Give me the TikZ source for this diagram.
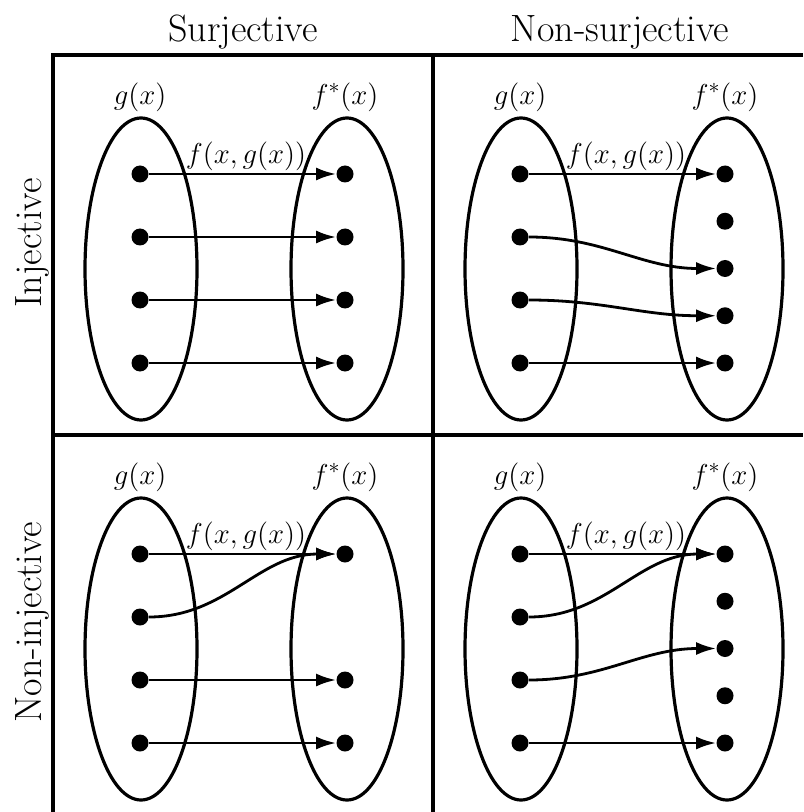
\documentclass[tikz,border=0pt]{standalone}
\usetikzlibrary{arrows.meta,shapes.geometric}
\tikzset{
  dotnode/.style={circle, fill=black, inner sep=0pt, minimum size=8.5pt},
  setshape/.style={ellipse, draw, line width=1.6pt, inner sep=0pt, minimum width=56pt, minimum height=151pt},
  lbl/.style={inner sep=0pt, font=\fontsize{15.2pt}{18pt}\selectfont},
  hd/.style={inner sep=0pt, font=\fontsize{19pt}{23pt}\selectfont},
  arr/.style={line width=1.4pt, -{Latex[length=10pt,width=6.5pt]}},
  gridline/.style={line width=2pt}
}
\newcommand\mkcell[4]{%
  \begin{scope}[shift={(#2,#3)}]
    \node[setshape] (#1-A) at (88,214) {};
    \node[setshape] (#1-B) at (294,214) {};
    \node[lbl] (#1-ga) at (87,42) {$g(x)$};
    \node[lbl] (#1-fa) at (292,42) {$f^*(x)$};
    \node[lbl] (#1-fl) at (193,101) {$f(x,g(x))$};
    \foreach \i/\yy in {1/119,2/182,3/245,4/308}
      \node[dotnode] (#1-l\i) at (87,\yy) {};
    \ifcase#4
    \or\or\or
      \foreach \i/\yy in {1/119,3/245,4/308}
        \node[dotnode] (#1-r\i) at (292,\yy) {};
    \or
      \foreach \i/\yy in {1/119,2/182,3/245,4/308}
        \node[dotnode] (#1-r\i) at (292,\yy) {};
    \or
      \foreach \i/\yy in {1/119,2/166.25,3/213.5,4/260.75,5/308}
        \node[dotnode] (#1-r\i) at (292,\yy) {};
    \fi
  \end{scope}}
\begin{document}
\begin{tikzpicture}[x=0.5pt, y=-0.5pt]
  \useasboundingbox (0,0) rectangle (803,812);
  \clip (0,0) rectangle (803,812);
  % grid
  \coordinate (g1) at (53,55);
  \coordinate (g2) at (803,55);
  \coordinate (g3) at (53,812);
  \coordinate (g4) at (433,55);
  \coordinate (g5) at (433,812);
  \coordinate (g6) at (53,435);
  \coordinate (g7) at (803,435);
  \draw[gridline] (g2) -- (g1) -- (g3);
  \draw[gridline] (g4) -- (g5);
  \draw[gridline] (g6) -- (g7);
  % headings
  \node[hd, anchor=base] (h1) at (243,42) {Surjective};
  \node[hd, anchor=base] (h2) at (620,42) {Non-surjective};
  \node[hd, rotate=90, anchor=base] (h3) at (41,243) {Injective};
  \node[hd, rotate=90, anchor=base] (h4) at (41,622) {Non-injective};
  % cells
  \mkcell{A}{53}{55}{4}
  \mkcell{B}{433}{55}{5}
  \mkcell{C}{53}{435}{3}
  \mkcell{D}{433}{435}{5}
  % arrows A
  \draw[arr] (A-l1) -- (A-r1);
  \draw[arr] (A-l2) -- (A-r2);
  \draw[arr] (A-l3) -- (A-r3);
  \draw[arr] (A-l4) -- (A-r4);
  % arrows B
  \draw[arr] (B-l1) -- (B-r1);
  \draw[arr] (B-l2) to[out=0,in=180] (B-r3);
  \draw[arr] (B-l3) to[out=0,in=180] (B-r4);
  \draw[arr] (B-l4) -- (B-r5);
  % arrows C
  \draw[arr] (C-l1) -- (C-r1);
  \draw[arr] (C-l2) to[out=0,in=180] (C-r1);
  \draw[arr] (C-l3) -- (C-r3);
  \draw[arr] (C-l4) -- (C-r4);
  % arrows D
  \draw[arr] (D-l1) -- (D-r1);
  \draw[arr] (D-l2) to[out=0,in=180] (D-r1);
  \draw[arr] (D-l3) to[out=0,in=180] (D-r3);
  \draw[arr] (D-l4) -- (D-r5);
\end{tikzpicture}
\end{document}
